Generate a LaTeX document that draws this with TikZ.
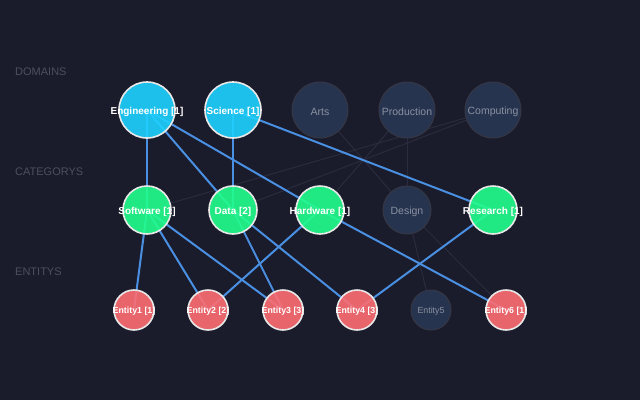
\documentclass[tikz,border=0pt]{standalone}
\usepackage{fontspec}
\setmainfont{Liberation Sans}
\usetikzlibrary{backgrounds}
\definecolor{bg}{HTML}{1A1B2B}
\definecolor{domc}{HTML}{1ED2FF}
\definecolor{catc}{HTML}{21FF8C}
\definecolor{entc}{HTML}{FF6E73}
\definecolor{offc}{HTML}{27344F}
\definecolor{offline}{HTML}{353745}
\definecolor{edgec}{HTML}{4A90E2}
\definecolor{faintc}{HTML}{2A2B3C}
\definecolor{secc}{HTML}{4F4F5C}
\definecolor{offtext}{HTML}{8A90A0}
\definecolor{ringc}{HTML}{E8E8E8}
\tikzset{
  onnode/.style={circle, draw=ringc, line width=1.6pt, fill opacity=0.9, inner sep=0pt},
  offnode/.style={circle, draw=offline, line width=1pt, fill=offc, inner sep=0pt},
  dom/.style={minimum size=56pt},
  cat/.style={minimum size=48pt},
  ent/.style={minimum size=40pt},
  onbig/.style={text=white, font=\fontsize{10}{12}\selectfont\bfseries, inner sep=0pt, yshift=-1.5pt},
  onsmall/.style={text=white, font=\fontsize{8.8}{10}\selectfont\bfseries, inner sep=0pt, yshift=-1.2pt},
  offbig/.style={text=offtext, font=\fontsize{10.5}{12}\selectfont, inner sep=0pt, yshift=-1.5pt},
  offsmall/.style={text=offtext, font=\fontsize{8.8}{10}\selectfont, inner sep=0pt, yshift=-1.2pt},
  link/.style={draw=edgec, line width=2pt},
  faint/.style={draw=faintc, line width=1pt},
  seclabel/.style={anchor=west, text=secc, font=\fontsize{11}{13}\selectfont, inner sep=0pt}
}
\begin{document}
\begin{tikzpicture}[x=1pt,y=-1pt]
\useasboundingbox (0,0) rectangle (640,400);
\node[seclabel] (sd) at (15,72) {DOMAINS};
\node[seclabel] (sc) at (15,172) {CATEGORYS};
\node[seclabel] (se) at (15,272) {ENTITYS};
% domains
\node[onnode,dom,fill=domc,label={[onbig]center:Engineering [1]}] (eng) at (147,110) {};
\node[onnode,dom,fill=domc,label={[onbig]center:Science [1]}] (sci) at (233,110) {};
\node[offnode,dom,label={[offbig]center:Arts}] (arts) at (320,110) {};
\node[offnode,dom,label={[offbig]center:Production}] (prod) at (407,110) {};
\node[offnode,dom,label={[offbig]center:Computing}] (comp) at (493,110) {};
% categories
\node[onnode,cat,fill=catc,label={[onbig]center:Software [1]}] (soft) at (147,210) {};
\node[onnode,cat,fill=catc,label={[onbig]center:Data [2]}] (data) at (233,210) {};
\node[onnode,cat,fill=catc,label={[onbig]center:Hardware [1]}] (hard) at (320,210) {};
\node[offnode,cat,label={[offbig]center:Design}] (des) at (407,210) {};
\node[onnode,cat,fill=catc,label={[onbig]center:Research [1]}] (res) at (493,210) {};
% entities
\node[onnode,ent,fill=entc,label={[onsmall]center:Entity1 [1]}] (e1) at (134,310) {};
\node[onnode,ent,fill=entc,label={[onsmall]center:Entity2 [2]}] (e2) at (208,310) {};
\node[onnode,ent,fill=entc,label={[onsmall]center:Entity3 [3]}] (e3) at (283,310) {};
\node[onnode,ent,fill=entc,label={[onsmall]center:Entity4 [3]}] (e4) at (357,310) {};
\node[offnode,ent,label={[offsmall]center:Entity5}] (e5) at (431,310) {};
\node[onnode,ent,fill=entc,label={[onsmall]center:Entity6 [1]}] (e6) at (506,310) {};
\begin{scope}[on background layer]
\fill[bg] (0,0) rectangle (640,400);
\path[faint] (arts.center) -- (des.center);
\path[faint] (prod.center) -- (des.center);
\path[faint] (prod.center) -- (hard.center);
\path[faint] (comp.center) -- (soft.center);
\path[faint] (comp.center) -- (data.center);
\path[faint] (des.center) -- (e5.center);
\path[faint] (des.center) -- (e6.center);
\path[link] (eng.center) -- (soft.center);
\path[link] (eng.center) -- (data.center);
\path[link] (eng.center) -- (hard.center);
\path[link] (sci.center) -- (data.center);
\path[link] (sci.center) -- (res.center);
\path[link] (soft.center) -- (e1.center);
\path[link] (soft.center) -- (e2.center);
\path[link] (soft.center) -- (e3.center);
\path[link] (data.center) -- (e3.center);
\path[link] (data.center) -- (e4.center);
\path[link] (hard.center) -- (e2.center);
\path[link] (hard.center) -- (e6.center);
\path[link] (res.center) -- (e4.center);
\end{scope}
\end{tikzpicture}
\end{document}
